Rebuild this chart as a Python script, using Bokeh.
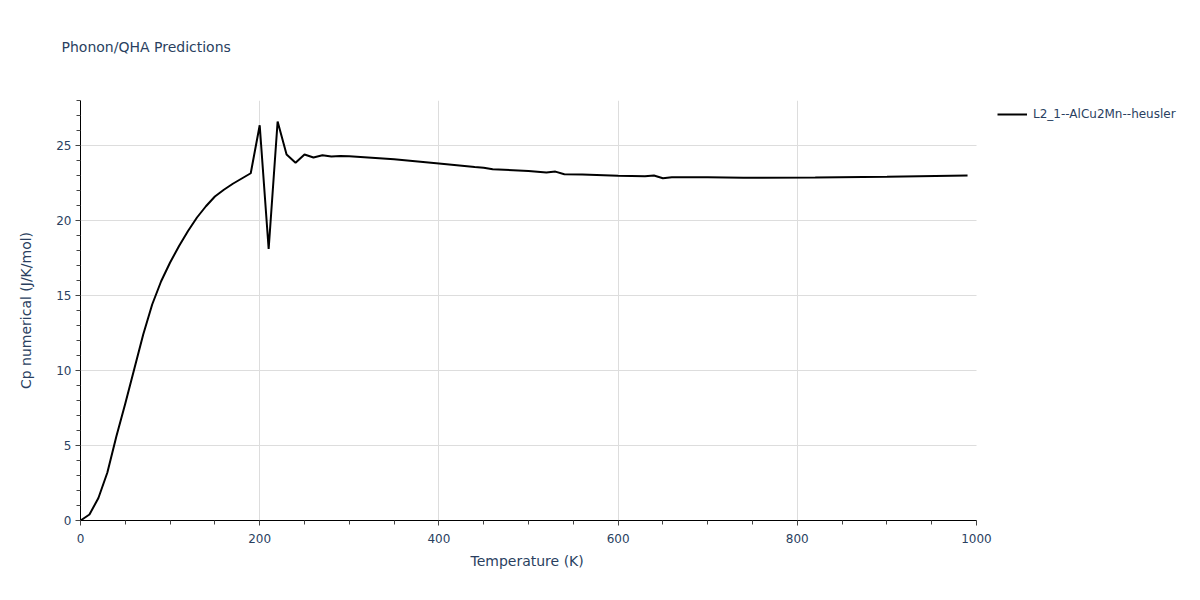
from bokeh.plotting import figure
from bokeh.models import Legend, FixedTicker, Range1d, Title
from bokeh.embed import file_html
from bokeh.resources import INLINE

# Data
temperature = [0, 10, 20, 30, 40, 50, 60, 70, 80, 90, 100, 110, 120, 130, 140, 150,
               160, 170, 180, 190, 200, 210, 220, 230, 240, 250, 260, 270, 280, 290,
               300, 350, 400, 440, 450, 460, 500, 520, 530, 540, 560, 600, 630, 640,
               650, 660, 700, 740, 820, 900, 990]
cp = [0.0, 0.4, 1.5, 3.2, 5.6, 7.8, 10.1, 12.4, 14.4, 15.95, 17.2, 18.3, 19.3, 20.2,
      20.95, 21.6, 22.05, 22.45, 22.8, 23.15, 26.35, 18.1, 26.6, 24.4, 23.85, 24.4,
      24.2, 24.35, 24.27, 24.3, 24.28, 24.08, 23.8, 23.57, 23.52, 23.42, 23.3, 23.2,
      23.26, 23.08, 23.07, 22.98, 22.95, 23.0, 22.82, 22.89, 22.88, 22.85, 22.86,
      22.92, 23.0]
series_name = "L2_1--AlCu2Mn--heusler"
x_major = [0, 200, 400, 600, 800, 1000]
x_minor = list(range(0, 1001, 50))
y_major = [0, 5, 10, 15, 20, 25]
y_minor = list(range(0, 29))
x_lim = (0, 1000)
y_lim = (0, 28)

TXT = "#2a3f5f"
FONT = "DejaVu Sans"

PLOT_W = 896      # width of the plotting area (px)
RIGHT_W = 224     # space for the legend, kept inside the frame
x_end_ext = x_lim[1] * (PLOT_W + RIGHT_W) / PLOT_W

p = figure(width=1200, height=600, output_backend="svg", toolbar_location=None,
           title=None,
           x_range=Range1d(x_lim[0], x_end_ext), y_range=Range1d(*y_lim),
           min_border_left=80, min_border_right=0, min_border_top=100,
           min_border_bottom=80)
p.outline_line_color = None
p.background_fill_color = "white"

r = p.line(temperature, cp, line_color="black", line_width=2)

for ax in (p.xaxis[0], p.yaxis[0]):
    ax.axis_line_color = "black"
    ax.axis_line_width = 1
    ax.major_tick_line_color = "#444444"
    ax.minor_tick_line_color = "#444444"
    ax.major_tick_out = 5
    ax.major_tick_in = 0
    ax.minor_tick_out = 4
    ax.minor_tick_in = 0
    ax.major_label_text_font = FONT
    ax.major_label_text_font_size = "12px"
    ax.major_label_text_color = TXT
    ax.axis_label_text_font = FONT
    ax.axis_label_text_font_size = "14px"
    ax.axis_label_text_color = TXT
    ax.axis_label_text_font_style = "normal"

p.xaxis[0].bounds = x_lim
p.yaxis[0].bounds = y_lim
p.xaxis[0].ticker = FixedTicker(ticks=x_major, minor_ticks=x_minor)
p.yaxis[0].ticker = FixedTicker(ticks=y_major, minor_ticks=y_minor)
p.yaxis[0].axis_label = "Cp numerical (J/K/mol)"
p.xaxis[0].major_label_standoff = 8
p.yaxis[0].major_label_standoff = 4
p.yaxis[0].axis_label_standoff = 19

# x-axis title, centred under the plotting area (not the wider frame)
x_title = Title(text="Temperature (K)", align="left", offset=390,
                text_font=FONT, text_font_size="14px", text_color=TXT,
                text_font_style="normal")
p.add_layout(x_title, "below")

p.xgrid.grid_line_color = "#dddddd"
p.ygrid.grid_line_color = "#dddddd"
p.xgrid.ticker = FixedTicker(ticks=[200, 400, 600, 800])
p.ygrid.ticker = FixedTicker(ticks=[5, 10, 15, 20, 25])
p.ygrid.cross_bounds = x_lim
p.xgrid.cross_bounds = y_lim

main_title = Title(text="Phonon/QHA Predictions\n \n ", align="left", offset=-19,
                   text_font=FONT, text_font_size="14px", text_color=TXT,
                   text_font_style="normal", text_line_height=1.28)
p.add_layout(main_title, "above")

legend = Legend(items=[(series_name, [r])], location=(PLOT_W + 21, 396),
                margin=0, padding=4, glyph_width=30, glyph_height=20,
                label_standoff=6, label_text_font=FONT,
                label_text_font_size="12px", label_text_color=TXT,
                border_line_color=None, background_fill_alpha=0)
p.add_layout(legend)

open("out.html", "w").write(file_html(p, INLINE))
